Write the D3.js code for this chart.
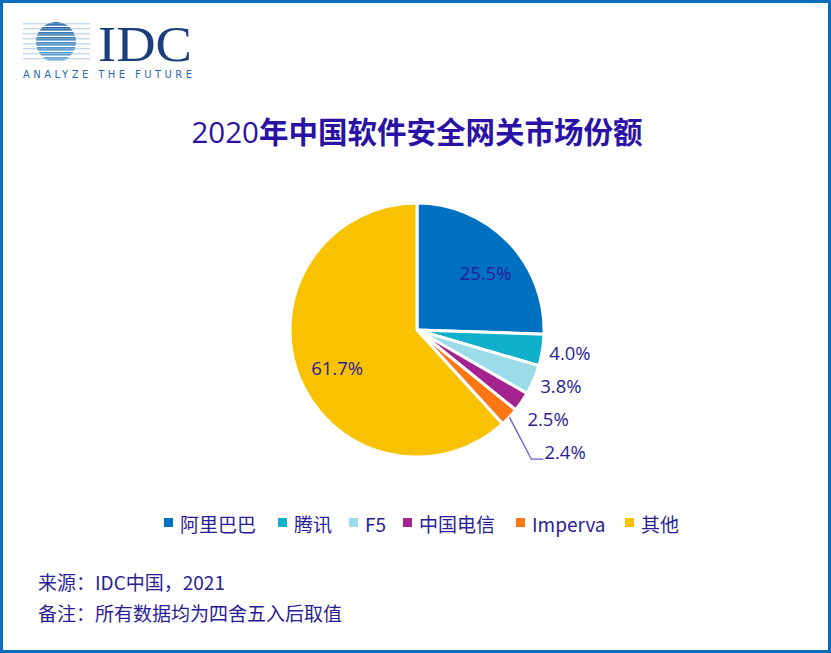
<!DOCTYPE html>
<html><head><meta charset="utf-8">
<script src="https://cdn.jsdelivr.net/npm/d3@7/dist/d3.min.js"></script>
<style>
body{margin:0;padding:0;background:#fff;}
svg{display:block;}
</style></head>
<body>
<svg id="c" width="831" height="653"></svg>
<script>
const categories = ["阿里巴巴","腾讯","F5","中国电信","Imperva","其他"];
const values = [25.5, 4.0, 3.8, 2.5, 2.4, 61.7];
const labels = ["25.5%","4.0%","3.8%","2.5%","2.4%","61.7%"];
const colors = ["#0070C0","#10AFCB","#9BDCE8","#A4238F","#FF7614","#F9C200"];
const insideFlags = [true,false,false,false,false,true];

const W=831,H=653;
const svg=d3.select("#c");
const CJK='"Noto Sans CJK SC","Noto Sans",sans-serif';
const txtColor="#2B1D96";

// frame
svg.append("rect").attr("x",1.5).attr("y",1.5).attr("width",W-3).attr("height",H-3)
  .attr("fill","#fff").attr("stroke","#0A6EBD").attr("stroke-width",3);

// logo
const logo=svg.append("g");
const lcx=56, lcy=42, lr=20;
const clipId="lc";
svg.append("defs").append("clipPath").attr("id",clipId).append("circle").attr("cx",lcx).attr("cy",lcy).attr("r",lr);
const stripes=d3.range(8);
const stripeColor=d3.scaleLinear().domain([0,7]).range(["#1C5FA6","#6AAEDF"]);
stripes.forEach(i=>{
  const y=lcy-lr+i*5;
  logo.append("rect").attr("x",lcx-lr).attr("y",y).attr("width",lr*2).attr("height",3.6)
    .attr("fill",stripeColor(i)).attr("clip-path","url(#"+clipId+")");
  logo.append("line").attr("x1",23).attr("x2",90).attr("y1",y+1.8).attr("y2",y+1.8)
    .attr("stroke","#9DB9D8").attr("stroke-width",0.8);
});
logo.append("text").attr("x",98).attr("y",61).attr("font-family",'"Liberation Serif","DejaVu Serif",serif')
  .attr("font-size",50).attr("fill","#1A3F7A").attr("textLength",94).attr("lengthAdjust","spacingAndGlyphs").text("IDC");
logo.append("text").attr("x",23).attr("y",78).attr("font-family",'"DejaVu Sans",sans-serif')
  .attr("font-size",10).attr("fill","#2A6BAA").attr("textLength",169).attr("lengthAdjust","spacing").text("ANALYZE THE FUTURE");

// title
const title=svg.append("text").attr("x",417).attr("y",143).attr("text-anchor","middle")
  .attr("font-family",CJK).attr("font-size",29.5).attr("fill","#2A12A6");
title.append("tspan").attr("font-family",'"Open Sans","Noto Sans",sans-serif').attr("font-weight","normal").text("2020");
title.append("tspan").attr("font-weight","bold").text("年中国软件安全网关市场份额");

// pie
const cx=417, cy=330, R=127;
const pie=d3.pie().sort(null).value(d=>d)(values);
const arc=d3.arc().innerRadius(0).outerRadius(R);
const g=svg.append("g").attr("transform",`translate(${cx},${cy})`);
g.selectAll("path").data(pie).join("path").attr("d",arc)
  .attr("fill",(d,i)=>colors[i]).attr("stroke","#fff").attr("stroke-width",3).attr("stroke-linejoin","round");

const inArc=d3.arc().innerRadius(90).outerRadius(90);
const lblFont='"Open Sans","Noto Sans",sans-serif';
pie.forEach((d,i)=>{
  if(insideFlags[i]){
    const [x,y]=inArc.centroid(d);
    g.append("text").attr("x",x+4).attr("y",y+5).attr("text-anchor","middle").attr("dominant-baseline","central")
      .attr("font-family",lblFont).attr("font-size",18.5).attr("fill",txtColor).text(labels[i]);
  }
});
// outside labels with simple collision avoidance
let lastY=-Infinity;
pie.forEach((d,i)=>{
  if(insideFlags[i]) return;
  const a=(d.startAngle+d.endAngle)/2;
  let x=134*Math.sin(a), y=-134*Math.cos(a)+1;
  const yOrig=y;
  if(y<lastY+33) y=lastY+33;
  lastY=y;
  if(y-yOrig>15){
    const ex=R*Math.sin(a), ey=-R*Math.cos(a);
    const kx=ex+22, ky=y+8;
    g.append("polyline").attr("points",`${ex},${ey} ${kx},${ky} ${kx+12},${ky}`)
      .attr("fill","none").attr("stroke","#6A55E0").attr("stroke-width",1.3);
    x=kx+13;
  }
  g.append("text").attr("x",x).attr("y",y).attr("dominant-baseline","central")
    .attr("font-family",lblFont).attr("font-size",18.5).attr("fill",txtColor).text(labels[i]);
});

// legend
const legX=[164,278,349,403,516,625];
const leg=svg.append("g");
categories.forEach((c,i)=>{
  leg.append("rect").attr("x",legX[i]).attr("y",518).attr("width",9).attr("height",9).attr("fill",colors[i]);
  leg.append("text").attr("x",legX[i]+16).attr("y",523).attr("dominant-baseline","central")
    .attr("font-family",CJK).attr("font-size",19).attr("fill",txtColor).text(c);
});

// footer
svg.append("text").attr("x",38).attr("y",590).attr("font-family",CJK).attr("font-size",19).attr("fill",txtColor).text("来源：IDC中国，2021");
svg.append("text").attr("x",38).attr("y",621).attr("font-family",CJK).attr("font-size",19).attr("fill",txtColor).text("备注：所有数据均为四舍五入后取值");
</script>
</body></html>
